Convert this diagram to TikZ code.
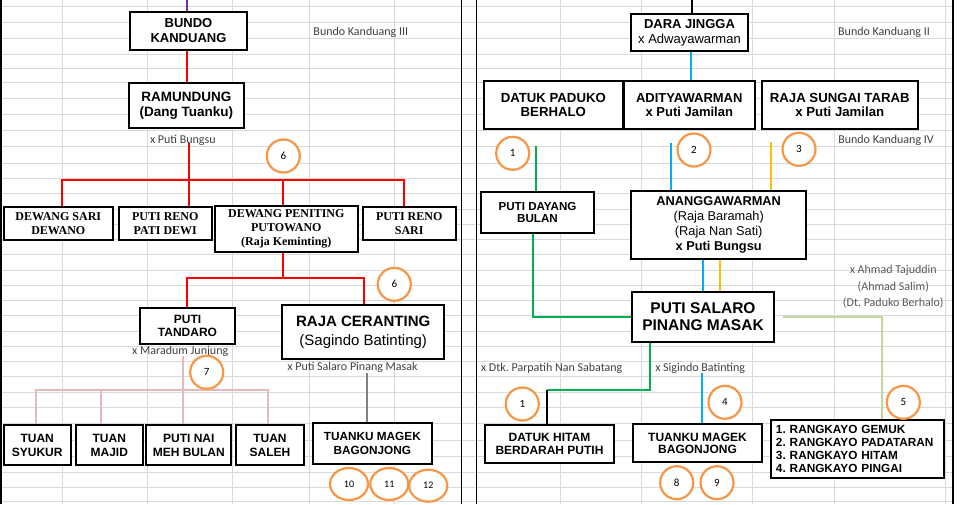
\documentclass[tikz,border=0pt]{standalone}
\usepackage{fontspec}
\setmainfont{Liberation Sans}
\newfontfamily\tnrfont{Liberation Serif}
\newfontfamily\califont{Carlito}
\usetikzlibrary{shapes.geometric}
\definecolor{gridc}{HTML}{D9D9D9}
\definecolor{orc}{HTML}{F79646}
\definecolor{redc}{HTML}{FF0000}
\definecolor{purc}{HTML}{7030A0}
\definecolor{pinkc}{HTML}{E6B9B8}
\definecolor{grayc}{HTML}{808080}
\definecolor{bluec}{HTML}{00B0F0}
\definecolor{greenc}{HTML}{00B050}
\definecolor{yelc}{HTML}{FFC000}
\definecolor{olivec}{HTML}{C4D79B}
\definecolor{notec}{HTML}{404040}
\definecolor{notegc}{HTML}{595959}
\frenchspacing
\begin{document}
\begin{tikzpicture}[x=1pt,y=-1pt,
  bx/.style={draw=black,line width=1.3pt,fill=white,inner sep=0pt,align=center},
  sb/.style 2 args={font=\fontsize{#1}{#2}\selectfont\bfseries},
  sr/.style 2 args={font=\fontsize{#1}{#2}\selectfont},
  tb/.style 2 args={font=\fontsize{#1}{#2}\selectfont\tnrfont\bfseries},
  note/.style={font=\fontsize{12}{16.7}\selectfont\califont,text=notec,inner sep=0pt,align=center},
  num/.style={circle,draw=orc,line width=2.2pt,fill=white,minimum size=33pt,inner sep=0pt,font=\fontsize{11}{12}\selectfont\califont},
  numel/.style={ellipse,draw=orc,line width=2.2pt,fill=white,minimum width=38pt,minimum height=32pt,inner sep=0pt,font=\fontsize{10}{12}\selectfont\califont},
  conn/.style={line width=2.3pt},
  gridln/.style={draw=gridc,line width=1pt},
  divln/.style={draw=black,line width=1.5pt}]
\useasboundingbox (0,0) rectangle (960,504);
\fill[white] (0,0) rectangle (960,504);
% spreadsheet grid
\foreach \yy in {6.3,22.3,38.7,54.3,68.3,82.3,98.3,114.3,130,146.5,163.3,178.6,193.8,209,224.3,239.5,254.8,270,285.3,300.5,315.8,331,346.3,361.5,376.8,392,407.3,423,440,456,472,487,501}
  \draw[gridln] (0,\yy) -- (953,\yy);
\foreach \xx in {62.3,147.7,232.3,309.3,394.3,560,641.7,752.7,834.3,945.7}
  \draw[gridln] (\xx,0) -- (\xx,504);
\draw[divln] (0.8,0) -- (0.8,504);
\draw[divln] (461.7,0) -- (461.7,504);
\draw[divln] (476.3,0) -- (476.3,504);
\draw[divln] (953,0) -- (953,504);

% ---------- left boxes
\node[bx,minimum width=116.4,minimum height=37,sb={13}{15}] (bundo) at (188.5,30.8) {BUNDO\\KANDUANG};
\node[bx,minimum width=114,minimum height=44.4,sb={13.5}{14.5}] (ramun) at (186.3,105.5) {RAMUNDUNG\\(Dang Tuanku)};
\node[bx,minimum width=108,minimum height=32,tb={12}{14}] (dsari) at (58.3,223.3) {DEWANG SARI\\DEWANO};
\node[bx,minimum width=92,minimum height=32,tb={12}{14}] (ptdewi) at (165.3,223.3) {PUTI RENO\\PATI DEWI};
\node[bx,minimum width=142,minimum height=46,tb={12}{13.7}] (dewpen) at (286.3,229) {DEWANG PENITING\\PUTOWANO\\(Raja Keminting)};
\node[bx,minimum width=92.3,minimum height=32,tb={12}{14}] (prsari) at (409.2,223.3) {PUTI RENO\\SARI};
\node[bx,minimum width=93.6,minimum height=35,sb={12}{12.7}] (tandaro) at (187.5,325.8) {PUTI\\TANDARO};
\node[bx,minimum width=161,minimum height=52.6,sr={15}{19}] (ceranting) at (363.2,332) {\textbf{RAJA CERANTING}\\(Sagindo Batinting)};
\node[bx,minimum width=66.3,minimum height=38.6,sb={12}{14}] (syukur) at (37.2,445) {TUAN\\SYUKUR};
\node[bx,minimum width=66.7,minimum height=38.6,sb={12}{14}] (majid) at (109.3,445) {TUAN\\MAJID};
\node[bx,minimum width=84.3,minimum height=38.6,sb={12}{14}] (meh) at (188.8,445) {PUTI NAI\\MEH BULAN};
\node[bx,minimum width=66.6,minimum height=38.6,sb={12}{14}] (saleh) at (270,445) {TUAN\\SALEH};
\node[bx,minimum width=118,minimum height=40,sb={11.8}{13.7}] (tmagekL) at (372.3,443.3) {TUANKU MAGEK\\BAGONJONG};

% ---------- right boxes
\node[bx,minimum width=116.4,minimum height=37,sr={13}{14.7}] (dara) at (689.5,32.5) {\textbf{DARA JINGGA}\\x Adwayawarman};
\node[bx,minimum width=138,minimum height=46.6,sb={13.2}{14}] (paduko) at (553.3,105) {DATUK PADUKO\\BERHALO};
\node[bx,minimum width=130,minimum height=46.6,sb={13}{14}] (adit) at (689.3,105) {ADITYAWARMAN\\x Puti Jamilan};
\node[bx,minimum width=155,minimum height=46.6,sb={13.2}{14}] (sungai) at (839.8,105) {RAJA SUNGAI TARAB\\x Puti Jamilan};
\node[bx,minimum width=111.6,minimum height=39.6,sb={11.6}{13}] (dayang) at (537.5,212.5) {PUTI DAYANG\\BULAN};
\node[bx,minimum width=174.7,minimum height=67.3,sr={12.8}{15}] (anang) at (718.7,224.7) {\textbf{ANANGGAWARMAN}\\(Raja Baramah)\\(Raja Nan Sati)\\\textbf{x Puti Bungsu}};
\node[bx,minimum width=140.6,minimum height=49.4,sb={15.5}{16.7}] (salaro) at (703,317) {PUTI SALARO\\PINANG MASAK};
\node[bx,minimum width=127.6,minimum height=37,sb={12}{13.3}] (hitam) at (549.5,444.2) {DATUK HITAM\\BERDARAH PUTIH};
\node[bx,minimum width=127.6,minimum height=37.3,sb={12}{12.5}] (tmagekR) at (697.5,443.3) {TUANKU MAGEK\\BAGONJONG};
\node[bx,minimum height=57,text width=163.7,inner xsep=4.3pt,align=left,sb={11.8}{12.9}] (rangkayo) at (857.8,449.2) {1. RANGKAYO GEMUK\\2. RANGKAYO PADATARAN\\3. RANGKAYO HITAM\\4. RANGKAYO PINGAI};

% ---------- notes
\node[note] (bk3) at (360.8,32.3) {Bundo Kanduang III};
\node[note] (putib) at (182.8,140) {x Puti Bungsu};
\node[note] (marad) at (180.2,351.7) {x Maradum Junjung};
\node[note] (psal) at (352.5,367.3) {x Puti Salaro Pinang Masak};
\node[note] (bk2) at (884,32.3) {Bundo Kanduang II};
\node[note] (bk4) at (886,140) {Bundo Kanduang IV};
\node[note,text=notegc] (ahmad) at (893.3,286.7) {x Ahmad Tajuddin\\(Ahmad Salim)\\(Dt. Paduko Berhalo)};
\node[note] (dtk) at (551.7,368.3) {x Dtk. Parpatih Nan Sabatang};
\node[note] (sig) at (700.2,368.3) {x Sigindo Batinting};

% ---------- coordinates for connectors
\coordinate (ptop) at (187.3,0);
\coordinate (rstart) at (189,143);
\coordinate (rJ) at (189,180);
\coordinate (r2) at (282.7,277.7);
\coordinate (pkstart) at (183.3,356);
\coordinate (pk) at (183.3,390);
\coordinate (gstart) at (367.3,373.3);
\coordinate (btop) at (692.3,0);
\coordinate (g1) at (536.3,145.7);
\coordinate (b2) at (671.3,143.3);
\coordinate (y2) at (770.7,142.3);
\coordinate (g2) at (547.3,390);
\coordinate (b3) at (702.3,373.3);

% left connectors
\draw[conn,purc] (ptop) -- (ptop |- bundo.north);
\draw[conn,redc] (bundo.south -| ptop) -- (ramun.north -| ptop);
\draw[conn,redc] (rstart) -- (rJ) -- (rJ |- ptdewi.north);
\draw[conn,redc] ([xshift=4]dsari.north) |- (rJ);
\draw[conn,redc] ([xshift=-3.6]dewpen.north) |- (rJ);
\draw[conn,redc] ([xshift=-4.9]prsari.north) |- (rJ);
\draw[conn,redc] (dewpen.south -| r2) -- (r2);
\draw[conn,redc] ([xshift=-0.8]tandaro.north) |- (r2);
\draw[conn,redc] ([xshift=1.1]ceranting.north) |- (r2);
\draw[conn,pinkc] (pkstart) -- (pk |- meh.north);
\draw[conn,pinkc] ([xshift=-1.5]syukur.north) |- (pk);
\draw[conn,pinkc] ([xshift=-8.6]majid.north) |- (pk);
\draw[conn,pinkc] ([xshift=-2.3]saleh.north) |- (pk);
\draw[conn,grayc,line width=2pt] (gstart) -- (gstart |- tmagekL.north);
% right connectors
\draw[conn,black] (btop) -- (btop |- dara.north);
\draw[conn,bluec] ([xshift=1.8]dara.south) -- ([xshift=1.8]dara.south |- adit.north);
\draw[conn,greenc] (g1) -- (g1 |- dayang.north);
\draw[conn,bluec] (b2) -- (b2 |- anang.north);
\draw[conn,yelc] (y2) -- (y2 |- anang.north);
\draw[conn,bluec] ([xshift=-15.7]anang.south) -- ([xshift=-15.7]anang.south |- salaro.north);
\draw[conn,yelc] ([xshift=1.3]anang.south) -- ([xshift=1.3]anang.south |- salaro.north);
\draw[conn,greenc] ([xshift=-4.2]dayang.south) |- (salaro.west);
\draw[conn,olivec] ([xshift=9]salaro.east) -| ([xshift=23.9]rangkayo.north);
\draw[conn,greenc] ([xshift=-53]salaro.south) |- (g2);
\draw[conn,black] (g2) -- (g2 |- hitam.north);
\draw[conn,bluec] (b3) -- (b3 |- tmagekR.north);

% redraw box outlines on top of connector ends
\foreach \n in {bundo,ramun,dsari,ptdewi,dewpen,prsari,tandaro,ceranting,syukur,majid,meh,saleh,tmagekL,dara,paduko,adit,sungai,dayang,anang,salaro,hitam,tmagekR,rangkayo}
  \draw[black,line width=1.3pt] (\n.north west) rectangle (\n.south east);

% ---------- numbered circles
\node[num] (c6a) at (283.3,156) {6};
\node[num] (c6b) at (394.3,284.3) {6};
\node[num] (c7) at (206.7,372.3) {7};
\node[numel] (c10) at (349,484) {10};
\node[numel] (c11) at (389.3,484) {11};
\node[numel] (c12) at (428.3,485.7) {12};
\node[num] (c1a) at (512.7,153.3) {1};
\node[num] (c2) at (694,150) {2};
\node[num] (c3) at (799,149.3) {3};
\node[num] (c1b) at (522.3,404) {1};
\node[num] (c4) at (725,402.3) {4};
\node[num] (c5) at (903.3,402.3) {5};
\node[num] (c8) at (676.7,482.7) {8};
\node[num] (c9) at (717,482.7) {9};
\end{tikzpicture}
\end{document}
